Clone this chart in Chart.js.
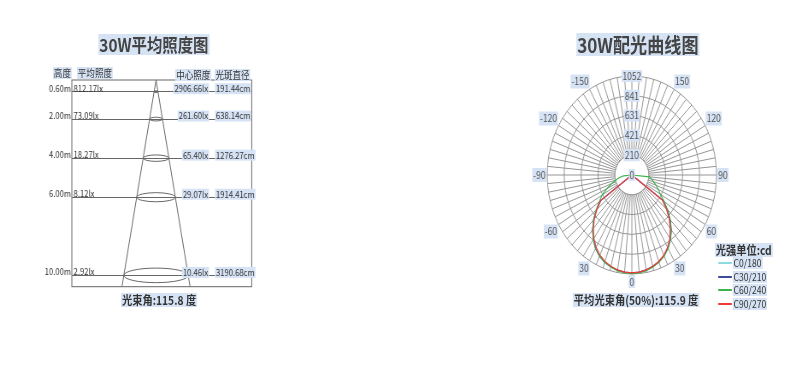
<!DOCTYPE html>
<html>
<head>
<meta charset="utf-8">
<script src="https://cdn.jsdelivr.net/npm/chart.js@4.4.1/dist/chart.umd.min.js"></script>
<style>
  html, body { margin: 0; padding: 0; background: #fff; }
  /* the whole sheet is a little narrower than tall, so the polar grid comes out as an ellipse */
  #page { position: absolute; left: 0; top: 0; width: 924px; height: 370px;
          transform: scaleX(0.855); transform-origin: 0 0;
          font-family: "Noto Sans CJK SC", "Liberation Sans", sans-serif; color: #333; }
  .t { position: absolute; white-space: nowrap; background: #d6e3f5; line-height: 1.15; padding: 0 1px; }
  .mid { transform: translateX(-50%); }
  .key { position: absolute; height: 1.5px; width: 16px; }
  canvas { position: absolute; }
</style>
</head>
<body>
<div id="page">
  <canvas id="lux" width="290" height="250" style="left:40px;top:60px"></canvas>
  <canvas id="polar" width="300" height="226" style="left:589px;top:62px"></canvas>

  <span class="t mid" style="left:180px;top:34px;font-size:18px;font-weight:bold;color:#444">30W平均照度图</span>
  <span class="t" style="left:62px;top:67px;font-size:10px">高度</span>
  <span class="t" style="left:90px;top:67px;font-size:10px">平均照度</span>
  <span class="t" style="left:205px;top:69px;font-size:10px">中心照度</span>
  <span class="t" style="left:251px;top:69px;font-size:10px">光斑直径</span>
  <span class="t mid" id="beamText" style="left:186px;top:293px;font-size:12px;font-weight:bold"></span>

  <span class="t mid" style="left:746px;top:33px;font-size:20px;font-weight:bold;color:#444">30W配光曲线图</span>
  <span class="t mid" id="avgBeamText" style="left:744px;top:293px;font-size:12px;font-weight:bold"></span>
  <span class="t" style="left:836px;top:243px;font-size:12px;font-weight:bold">光强单位:cd</span>
  <div id="legend"></div>
</div>

<script>
  "use strict";

  // ---- 平均照度图 ----
  var HEIGHTS = [0.6, 2, 4, 6, 10];                          // m
  var AVG_LUX = [812.17, 73.09, 18.27, 8.12, 2.92];          // lx
  var CENTER_LUX = [2906.66, 261.60, 65.40, 29.07, 10.46];   // lx
  var SPOT_CM = [191.44, 638.14, 1276.27, 1914.41, 3190.68]; // cm
  var BEAM_ANGLE = 115.8;
  var DEPTH = 10.58;                                         // bottom of the box, m

  // ---- 配光曲线 ----
  var AVG_BEAM_ANGLE = 115.9;
  var ANGLES = [180, 175, 170, 165, 160, 155, 150, 145, 140, 135, 130, 125, 120, 115, 110, 105, 100, 95,
    90, 85, 80, 75, 70, 65, 60, 55, 50, 45, 40, 35, 30, 25, 20, 15, 10, 5, 0,
    -5, -10, -15, -20, -25, -30, -35, -40, -45, -50, -55, -60, -65, -70, -75, -80, -85, -90,
    -95, -100, -105, -110, -115, -120, -125, -130, -135, -140, -145, -150, -155, -160, -165, -170, -175];
  var ANGLE_TEXT = ["", "150", "120", "90", "60", "30", "0", "30", "-60", "-90", "-120", "-150"]; // every 30 deg
  var RING_VALUES = [0, 210.36, 420.72, 631.08, 841.44, 1051.8];
  var RING_TEXT = ["0", "210", "421", "631", "841", "1052"];

  var SERIES_NAMES = ["C0/180", "C30/210", "C60/240", "C90/270"];
  var SERIES_COLORS = ["#8fd9e3", "#3d4b9c", "#3cb44b", "#f03a3a"];

  var C0_180 = [0, 0, 0, 0, 0, 0, 0, 0, 0, 0, 0, 0, 0, 0, 0, 0, 0, 0,
    0, 0, 0, 0, 0, 0, 0,
    470, 570, 665, 752, 830, 895, 945, 982, 1008, 1028, 1040, 1045,
    1040, 1030, 1012, 988, 952, 903, 838, 760, 675, 580, 482,
    0, 0, 0, 0, 0, 0, 0, 0, 0, 0, 0, 0, 0, 0, 0, 0, 0, 0, 0, 0, 0, 0, 0, 0];
  var C30_210 = [0, 0, 0, 0, 0, 0, 0, 0, 0, 0, 0, 0, 0, 0, 0, 0, 0, 0,
    0, 0, 0, 0, 0, 0, 0,
    478, 580, 675, 762, 838, 898, 945, 980, 1005, 1024, 1036, 1040,
    1036, 1026, 1010, 986, 950, 902, 836, 758, 670, 572, 470,
    0, 0, 0, 0, 0, 0, 0, 0, 0, 0, 0, 0, 0, 0, 0, 0, 0, 0, 0, 0, 0, 0, 0, 0];
  var C60_240 = [0, 0, 0, 0, 0, 0, 0, 0, 0, 0, 0, 0, 0, 0, 0, 0, 0, 0,
    0, 220, 250, 280, 320, 360, 410,
    490, 578, 670, 757, 835, 900, 950, 986, 1012, 1032, 1044, 1048,
    1044, 1032, 1012, 986, 950, 900, 835, 757, 672, 580, 492,
    430, 340, 265, 205, 155, 105, 0,
    0, 0, 0, 0, 0, 0, 0, 0, 0, 0, 0, 0, 0, 0, 0, 0, 0];
  var C90_270 = [0, 0, 0, 0, 0, 0, 0, 0, 0, 0, 0, 0, 0, 0, 0, 0, 0, 0,
    0, 0, 0, 0, 0, 0, 0,
    462, 560, 655, 742, 822, 888, 940, 978, 1004, 1024, 1036, 1040,
    1036, 1024, 1004, 977, 940, 888, 822, 744, 660, 566, 482,
    0, 0, 0, 0, 0, 0, 0, 0, 0, 0, 0, 0, 0, 0, 0, 0, 0, 0, 0, 0, 0, 0, 0, 0];
  var SERIES = [C0_180, C30_210, C60_240, C90_270];

  var FONT = '"Noto Sans CJK SC", "Liberation Sans", sans-serif';
  var BACKDROP = "#d6e3f5";
  var GRID = "#959595";
  var INK = "#333";

  document.getElementById("beamText").textContent = "光束角:" + BEAM_ANGLE + " 度";
  document.getElementById("avgBeamText").textContent = "平均光束角(50%):" + AVG_BEAM_ANGLE + " 度";

  // legend
  var lg = document.getElementById("legend");
  var legendY = [263, 277, 290, 304];
  SERIES_NAMES.forEach(function (n, i) {
    lg.innerHTML += '<div class="key" style="left:840px;top:' + (legendY[i] - 1) + 'px;background:' + SERIES_COLORS[i] + '"></div>' +
      '<span class="t" style="left:857px;top:' + (legendY[i] - 6) + 'px;font-size:10px">' + n + '</span>';
  });

  // ---------- 平均照度图 ----------
  function labelBox(ctx, text, x, y, align) {
    var w = ctx.measureText(text).width;
    var left = align === "right" ? x - w : x;
    ctx.fillStyle = BACKDROP;
    ctx.fillRect(left - 1, y - 5.5, w + 2, 11);
    ctx.fillStyle = INK;
    ctx.textAlign = align;
    ctx.fillText(text, x, y);
  }

  var luxDecor = {
    id: "luxDecor",
    afterDraw: function (chart) {
      var ctx = chart.ctx, a = chart.chartArea, x = chart.scales.x, y = chart.scales.y;
      var cx = x.getPixelForValue(0);
      ctx.save();
      ctx.strokeStyle = "#666";
      ctx.lineWidth = 1;
      ctx.strokeRect(a.left, a.top, a.right - a.left, a.bottom - a.top);
      HEIGHTS.forEach(function (h, i) {
        var py = y.getPixelForValue(h);
        var rx = x.getPixelForValue(SPOT_CM[i] / 200) - cx;
        ctx.beginPath();
        ctx.ellipse(cx, py, rx, rx * 0.18 + 0.5, 0, 0, Math.PI * 2);
        ctx.stroke();

        ctx.font = "9px " + FONT;
        ctx.textBaseline = "middle";
        ctx.fillStyle = INK;
        ctx.textAlign = "right";
        ctx.fillText(h.toFixed(2) + "m", a.left - 1, py - 3.5);
        ctx.textAlign = "left";
        ctx.fillText(AVG_LUX[i].toFixed(2) + "lx", a.left + 2, py - 3.5);
        labelBox(ctx, CENTER_LUX[i].toFixed(2) + "lx", a.right - 51, py - 3, "right");
        labelBox(ctx, SPOT_CM[i].toFixed(2) + "cm", a.right - 42, py - 3, "left");
      });
      ctx.restore();
    }
  };

  var half = DEPTH * Math.tan(BEAM_ANGLE / 2 * Math.PI / 180);
  new Chart(document.getElementById("lux"), {
    type: "scatter",
    data: {
      datasets: [{
        data: [{ x: -half, y: DEPTH }, { x: 0, y: 0 }, { x: half, y: DEPTH }],
        showLine: true, borderColor: "#666", borderWidth: 1, pointRadius: 0
      }]
    },
    options: {
      responsive: false, animation: false, events: [],
      layout: { padding: { left: 44, top: 20, right: 35.6, bottom: 23.3 } },
      plugins: { legend: { display: false }, tooltip: { enabled: false } },
      scales: {
        x: { type: "linear", display: false, min: -41.7, max: 47.4 },
        y: {
          type: "linear", reverse: true, min: 0, max: DEPTH,
          afterBuildTicks: function (s) { s.ticks = HEIGHTS.map(function (v) { return { value: v }; }); },
          ticks: { display: false },
          grid: { color: "#666", lineWidth: 1, drawTicks: false },
          border: { display: false }
        }
      }
    },
    plugins: [luxDecor]
  });

  // ---------- 配光曲线图 ----------
  var innerDisc = {
    id: "innerDisc",
    beforeDatasetsDraw: function (chart) {
      var s = chart.scales.r, ctx = chart.ctx;
      var rad = s.getDistanceFromCenterForValue(RING_VALUES[1]);
      ctx.save();
      ctx.beginPath();
      ctx.arc(s.xCenter, s.yCenter, rad, 0, Math.PI * 2);
      ctx.fillStyle = "#fff";
      ctx.fill();
      ctx.strokeStyle = GRID;
      ctx.lineWidth = 1;
      ctx.stroke();
      ctx.restore();
    }
  };

  new Chart(document.getElementById("polar"), {
    type: "radar",
    data: {
      labels: ANGLES,
      datasets: SERIES.map(function (d, i) {
        // later series are painted on top, as in the original
        return { label: SERIES_NAMES[i], data: d, borderColor: SERIES_COLORS[i], borderWidth: 1.2,
                 fill: false, pointRadius: 0, tension: 0, order: SERIES.length - i };
      })
    },
    options: {
      responsive: false, animation: false, events: [],
      plugins: { legend: { display: false }, tooltip: { enabled: false } },
      scales: {
        r: {
          min: -0.01, max: 1051.8, startAngle: 0,
          afterBuildTicks: function (s) { s.ticks = RING_VALUES.map(function (v) { return { value: v }; }); },
          ticks: {
            z: 1, color: "#555", font: { size: 10, family: FONT },
            showLabelBackdrop: true, backdropColor: BACKDROP, backdropPadding: { x: 1, y: 1 },
            callback: function (v, i) { return RING_TEXT[i]; }
          },
          grid: { circular: true, color: GRID, lineWidth: 1 },
          angleLines: { color: GRID, lineWidth: 1 },
          pointLabels: {
            padding: -4, color: "#555", font: { size: 10, family: FONT },
            backdropColor: function (c) { return c.label ? BACKDROP : null; },
            backdropPadding: 1,
            callback: function (l, i) { return i % 6 === 0 ? ANGLE_TEXT[i / 6] : ""; }
          }
        }
      }
    },
    plugins: [innerDisc]
  });
</script>
</body>
</html>
